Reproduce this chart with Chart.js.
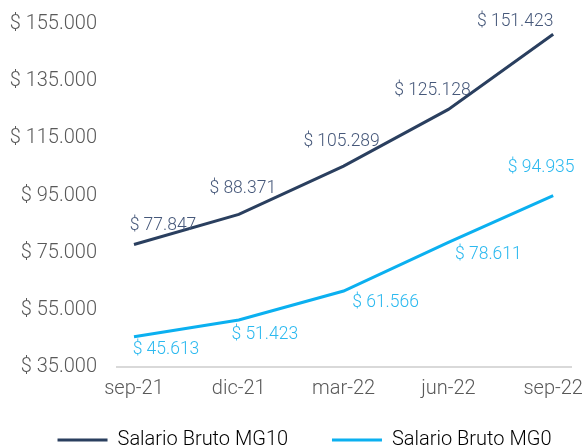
<!DOCTYPE html>
<html>
<head>
<meta charset="utf-8">
<script src="https://cdn.jsdelivr.net/npm/chart.js@4/dist/chart.umd.min.js"></script>
<style>
  html, body { margin: 0; padding: 0; background: #fff; }
  #wrap { width: 583px; height: 447px; }
</style>
</head>
<body>
<div id="wrap"><canvas id="lineChart"></canvas></div>
<script>
const categories = ['sep-21', 'dic-21', 'mar-22', 'jun-22', 'sep-22'];
const salarioMG10 = [77847, 88371, 105289, 125128, 151423];
const salarioMG0 = [45613, 51423, 61566, 78611, 94935];
const seriesNames = ['Salario Bruto MG10', 'Salario Bruto MG0'];

// label nudges (px) relative to each point, like the Excel original
const offsetsMG10 = [[29, -19], [4, -26], [-2, -24], [-16, -19], [-38, -13]];
const offsetsMG0 = [[32, 13], [26, 15], [42, 12], [40, 12], [-12, -28]];

const navy = '#2a3f5f';
const navyText = '#46587a';
const sky = '#0bb0f0';
const skyText = '#2cb9ef';
const gray = '#595959';

function money(v) {
    return '$ ' + String(Math.round(v)).replace(/\B(?=(\d{3})+(?!\d))/g, '.');
}

const pointLabels = {
    id: 'pointLabels',
    afterDatasetsDraw(chart) {
        const ctx = chart.ctx;
        ctx.save();
        ctx.font = '300 17.5px Roboto';
        ctx.textAlign = 'center';
        ctx.textBaseline = 'middle';
        chart.data.datasets.forEach((ds, di) => {
            const meta = chart.getDatasetMeta(di);
            meta.data.forEach((pt, i) => {
                const off = ds.labelOffsets[i];
                ctx.fillStyle = ds.labelColor;
                ctx.fillText(money(ds.data[i].y), pt.x + off[0], pt.y + off[1]);
            });
        });
        ctx.restore();
    }
};

// the original legend sits a bit right of centre
const legendNudge = {
    id: 'legendNudge',
    afterLayout(chart) {
        chart.legend.left += 19;
        chart.legend.right += 19;
    }
};

const ctx = document.getElementById('lineChart').getContext('2d');
const lineChartInstance = new Chart(ctx, {
    type: 'line',
    data: {
        datasets: [{
            label: seriesNames[0],
            data: salarioMG10.map((v, i) => ({ x: i, y: v })),
            borderColor: navy,
            backgroundColor: navy,
            borderWidth: 3,
            pointRadius: 0,
            tension: 0,
            labelColor: navyText,
            labelOffsets: offsetsMG10
        }, {
            label: seriesNames[1],
            data: salarioMG0.map((v, i) => ({ x: i, y: v })),
            borderColor: sky,
            backgroundColor: sky,
            borderWidth: 3,
            pointRadius: 0,
            tension: 0,
            labelColor: skyText,
            labelOffsets: offsetsMG0
        }]
    },
    options: {
        responsive: true,
        maintainAspectRatio: false,
        animation: false,
        layout: { padding: { top: 14, right: 12, left: 0, bottom: -13 } },
        scales: {
            x: {
                type: 'linear',
                min: -0.162,
                max: 4.17,
                grid: { display: false },
                border: { display: true, color: '#d9d9d9', width: 2 },
                ticks: {
                    stepSize: 1,
                    includeBounds: false,
                    autoSkip: false,
                    maxRotation: 0,
                    padding: 2,
                    color: gray,
                    font: { family: 'Roboto', weight: '300', size: 20 },
                    callback: (v) => categories[v] ?? ''
                },
                afterFit: (scale) => {
                    scale.height = 63;
                    scale.paddingLeft = 0;
                    scale.paddingRight = 0;
                }
            },
            y: {
                min: 35000,
                max: 155000,
                grid: { display: false },
                border: { display: false },
                ticks: {
                    stepSize: 20000,
                    padding: 12,
                    color: gray,
                    font: { family: 'Roboto', weight: '300', size: 20 },
                    callback: (v) => money(v)
                },
                afterFit: (scale) => { scale.width = 117; }
            }
        },
        plugins: {
            tooltip: { enabled: false },
            legend: {
                position: 'bottom',
                labels: {
                    boxWidth: 50,
                    boxHeight: 3,
                    padding: 0,
                    color: gray,
                    font: { family: 'Roboto', weight: '300', size: 20 },
                    generateLabels: (chart) => chart.data.datasets.map((ds, i) => ({
                        text: i === 0 ? ds.label + '         ' : ds.label,
                        fillStyle: ds.borderColor,
                        strokeStyle: ds.borderColor,
                        lineWidth: 0,
                        datasetIndex: i
                    }))
                }
            }
        }
    },
    plugins: [pointLabels, legendNudge]
});
</script>
</body>
</html>
